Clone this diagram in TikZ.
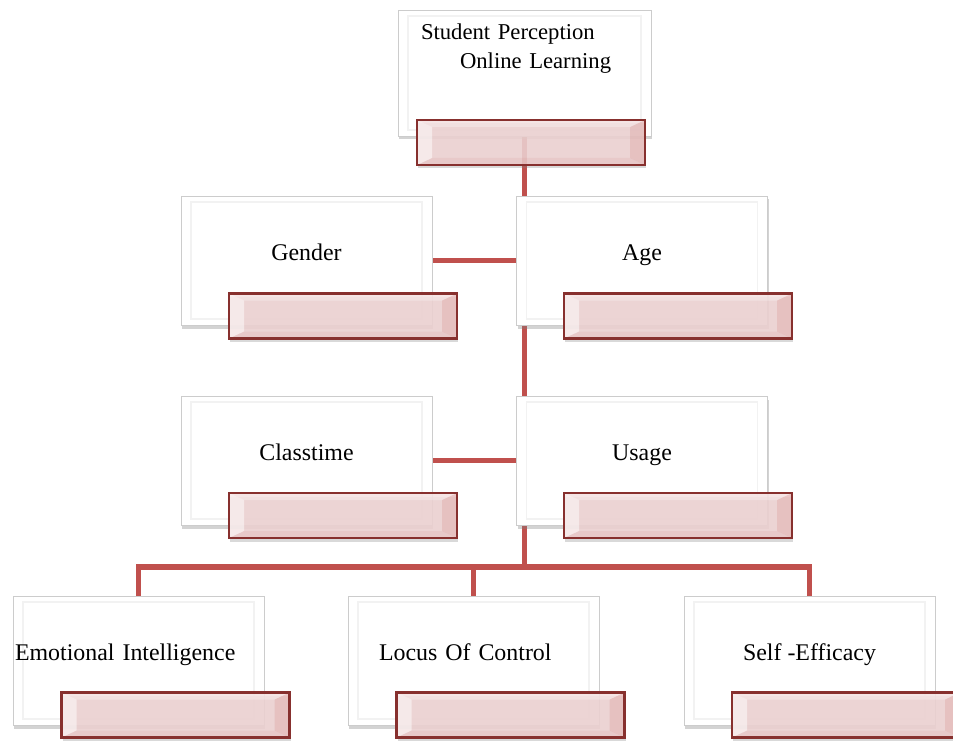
\documentclass[tikz,border=0pt]{standalone}
\usepackage{fontspec}
\setmainfont{Liberation Serif}
\usetikzlibrary{shadows,backgrounds,calc}
\definecolor{RedMain}{RGB}{192,80,77}
\definecolor{RedDark}{RGB}{135,48,46}
\definecolor{PinkFill}{RGB}{240,212,212}

\begin{document}
\begin{tikzpicture}[
  card/.style={
    rectangle, draw=gray!40, fill=white, inner sep=0pt,
    minimum width=5.02cm, minimum height=2.58cm,
    font=\fontsize{13.6}{16.4}\selectfont, text height=0.3cm, text depth=0.3cm,
    drop shadow={shadow xshift=0.02cm, shadow yshift=-0.07cm, opacity=0.35},
    path picture={
      \draw[gray!10, line width=0.8pt]
        ([shift={(0.2,-0.12)}]path picture bounding box.north west) rectangle
        ([shift={(-0.2,0.12)}]path picture bounding box.south east);
    }
  },
  tab/.style={
    rectangle, draw=RedDark, line width=1.4pt, fill=PinkFill, fill opacity=0.85,
    minimum width=4.56cm, minimum height=0.9cm,
    drop shadow={shadow xshift=0.02cm, shadow yshift=-0.07cm, opacity=0.3},
    path picture={
      \fill[white, opacity=0.5]
        (path picture bounding box.south west) -- (path picture bounding box.north west)
        -- ([shift={(0.3,-0.14)}]path picture bounding box.north west)
        -- ([shift={(0.3,0.14)}]path picture bounding box.south west) -- cycle;
      \fill[RedMain, opacity=0.14]
        (path picture bounding box.south east) -- (path picture bounding box.north east)
        -- ([shift={(-0.3,-0.14)}]path picture bounding box.north east)
        -- ([shift={(-0.3,0.14)}]path picture bounding box.south east) -- cycle;
      \fill[white, opacity=0.3]
        (path picture bounding box.north west) -- (path picture bounding box.north east)
        -- ([shift={(-0.3,-0.14)}]path picture bounding box.north east)
        -- ([shift={(0.3,-0.14)}]path picture bounding box.north west) -- cycle;
      \fill[RedMain, opacity=0.08]
        (path picture bounding box.south west) -- (path picture bounding box.south east)
        -- ([shift={(-0.3,0.14)}]path picture bounding box.south east)
        -- ([shift={(0.3,0.14)}]path picture bounding box.south west) -- cycle;
    }
  },
  conn/.style={line width=3.3pt, RedMain}
]
\useasboundingbox (0,0) rectangle (19.06,14.8);

% --- Top
\node[card, minimum width=5.06cm, minimum height=2.52cm,
      font=\fontsize{12.9}{16.4}\selectfont, align=left, text width=4.14cm,
      text height=0.3cm, text depth=1.62cm] (top) at (10.49,13.34)
      {Student Perception\\\hspace*{0.78cm}Online Learning};
\node[tab] (topTab) at (10.62,11.95) {};

% --- Second row
\node[card] (gender) at (6.13,9.59)  {Gender};
\node[tab]  (genderTab) at (6.86,8.48) {};
\node[card] (age)    at (12.84,9.59) {Age};
\node[tab]  (ageTab) at (13.56,8.48) {};

% --- Third row
\node[card] (classtime) at (6.13,5.59)  {Classtime};
\node[tab]  (classTab)  at (6.86,4.49) {};
\node[card] (usage)     at (12.84,5.59) {Usage};
\node[tab]  (usageTab)  at (13.56,4.49) {};

% --- Bottom row
\node[card, align=left, text width=4.94cm] (emotion) at (2.77,1.59)
      {Emotional Intelligence};
\node[tab]  (emotionTab) at (3.51,0.50) {};
\node[card, align=left, text width=3.78cm] (locus) at (9.47,1.59)
      {Locus Of Control};
\node[tab]  (locusTab) at (10.21,0.50) {};
\node[card] (self)    at (16.19,1.59) {Self -Efficacy};
\node[tab]  (selfTab) at (16.92,0.50) {};

% --- Connectors
\coordinate (split) at (10.49,3.46);
\begin{scope}[on background layer]
\draw[conn] (top.center) -- (split);
\draw[conn] (gender.east) -- (age.west);
\draw[conn] (classtime.east) -- (usage.west);
\draw[conn] (emotion.north) |- (split) -| (self.north);
\draw[conn] (locus.north) -- (locus.north |- split);
\end{scope}

\end{tikzpicture}
\end{document}
